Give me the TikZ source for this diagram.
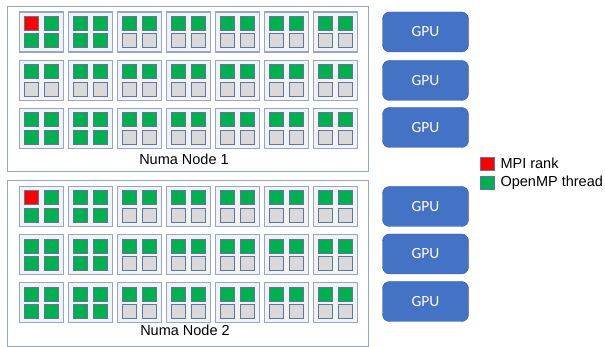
\documentclass[tikz,border=0pt]{standalone}
\usepackage{fontspec}
\setmainfont{Liberation Sans}
\newfontfamily\gpufont{Carlito}
\usepackage{tikz}
\usetikzlibrary{positioning}
\definecolor{frameblue}{RGB}{150,166,198}
\definecolor{sqedge}{RGB}{95,118,160}
\definecolor{ompgreen}{RGB}{0,176,80}
\definecolor{idlegray}{RGB}{217,217,217}
\definecolor{gpublue}{RGB}{68,114,196}
\definecolor{gpuedge}{RGB}{52,90,160}
\tikzset{
    numa/.style={rectangle, draw=frameblue, line width=1pt, minimum width=361pt, minimum height=165pt},
    socket/.style={rectangle, draw=frameblue, line width=1.1pt, fill=black!5, minimum width=44pt, minimum height=40pt},
    sq/.style={rectangle, draw=sqedge, line width=0.7pt, inner sep=0pt, minimum width=14.5pt, minimum height=14pt},
    threadsq/.style={fill=ompgreen},
    ranksq/.style={fill=red},
    idlesq/.style={fill=idlegray},
    gpu/.style={rectangle, draw=gpuedge, fill=gpublue, rounded corners=7pt, minimum width=86pt, minimum height=40pt, text=white, font=\gpufont\fontsize{15.5}{17}\selectfont},
    label/.style={inner sep=0pt, font=\fontsize{14.5}{16}\selectfont}
}
\begin{document}
\begin{tikzpicture}[x=1pt, y=-1pt]
    \useasboundingbox (0,0) rectangle (605,347);
    % numa nodes
    \node[numa] (numa1) at (187.5,89.5) {};
    \node[numa] (numa2) at (187.5,263.5) {};
    \node[label] (numa1label) at (184,159) {Numa Node 1};
    \node[label] (numa2label) at (185,330) {Numa Node 2};

    % sockets with cores
    \foreach \n/\ytop in {1/32, 2/206.5} {
        \foreach \r in {1,2,3} {
            \foreach \c in {1,...,7} {
                \pgfmathsetmacro\bx{41.5+49*(\c-1)}
                \pgfmathsetmacro\by{\ytop+48.2*(\r-1)}
                \def\lowfill{idlesq}
                \ifnum\c<3 \def\lowfill{threadsq}\fi
                \ifnum\n=1 \ifnum\r=2 \def\lowfill{idlesq}\fi\fi
                \def\firstfill{threadsq}
                \ifnum\c=1 \ifnum\r=1 \def\firstfill{ranksq}\fi\fi
                \node[socket] (cpu\n-\r-\c) at (\bx,\by) {};
                \node[sq, \firstfill] (cpu\n-\r-\c-a) at (\bx-10,\by-8.8) {};
                \node[sq, threadsq] (cpu\n-\r-\c-b) at (\bx+10,\by-8.8) {};
                \node[sq, \lowfill] (cpu\n-\r-\c-c) at (\bx-10,\by+8.8) {};
                \node[sq, \lowfill] (cpu\n-\r-\c-d) at (\bx+10,\by+8.8) {};
            }
        }
    }

    % gpus
    \foreach \g/\gy in {1/32, 2/80.5, 3/127.5, 4/206.5, 5/254, 6/301.5} {
        \node[gpu] (gpu\g) at (425.5,\gy) {GPU};
    }

    % legend
    \node[sq, ranksq, minimum width=14pt, minimum height=13pt] (keyrank) at (487,163.5) {};
    \node[sq, threadsq, minimum width=14pt, minimum height=13pt, below=6pt of keyrank] (keythread) {};
    \node[label, right=6pt of keyrank] (keyranktext) {MPI rank};
    \node[label, right=6pt of keythread] (keythreadtext) {OpenMP thread};
\end{tikzpicture}
\end{document}
